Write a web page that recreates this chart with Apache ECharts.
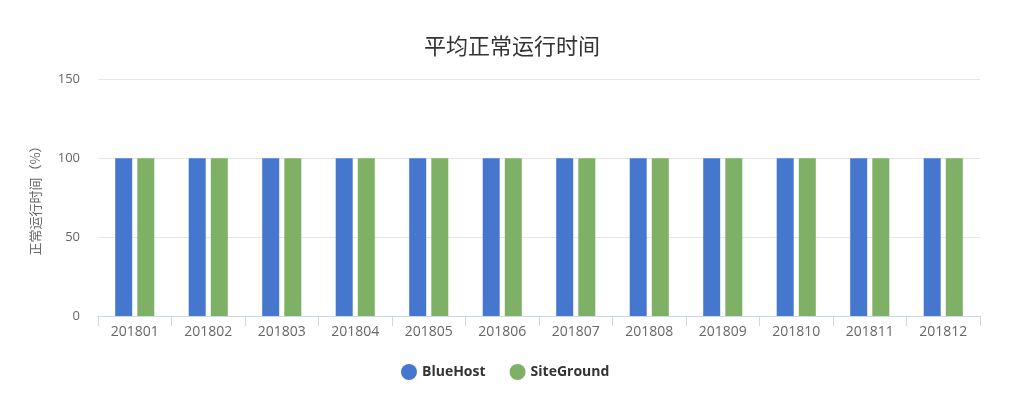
<!DOCTYPE html>
<html>
<head>
<meta charset="utf-8">
<script src="https://cdn.jsdelivr.net/npm/echarts@6/dist/echarts.min.js"></script>
<style>
  html, body { margin: 0; padding: 0; background: #fff; }
  #chart { width: 1024px; height: 415px; }
</style>
</head>
<body>
<div id="chart"></div>
<script>
var months = ['201801', '201802', '201803', '201804', '201805', '201806',
  '201807', '201808', '201809', '201810', '201811', '201812'];
var bluehost = [99.9, 99.9, 99.9, 99.9, 99.9, 99.9, 99.9, 99.9, 99.9, 99.9, 99.9, 99.9];
var siteground = [99.9, 99.9, 99.9, 99.9, 99.9, 99.9, 99.9, 99.9, 99.9, 99.9, 99.9, 99.9];

var chart = echarts.init(document.getElementById('chart'));

var option = {
  backgroundColor: '#fff',
  textStyle: { fontFamily: '"Open Sans", "Noto Sans CJK SC", sans-serif' },
  title: {
    text: '平均正常运行时间',
    left: 'center',
    top: 30,
    textStyle: { fontSize: 22, fontWeight: 'normal', color: '#333',
      fontFamily: '"Noto Sans CJK SC", sans-serif' }
  },
  legend: {
    data: ['BlueHost', 'SiteGround'],
    left: 396,
    bottom: 30,
    icon: 'circle',
    itemWidth: 16,
    itemHeight: 16,
    itemGap: 24,
    textStyle: { fontSize: 14, fontWeight: 'bold', color: '#333' }
  },
  color: ['#4677cf', '#7eb066'],
  grid: { left: 98, right: 44, top: 79, bottom: 99 },
  xAxis: {
    type: 'category',
    data: months,
    axisLine: { lineStyle: { color: '#ccd6eb' } },
    axisTick: { show: true, length: 10, lineStyle: { color: '#ccd6eb' } },
    axisLabel: { color: '#666', fontSize: 14, margin: 9 }
  },
  yAxis: {
    type: 'value',
    min: 0,
    max: 150,
    interval: 50,
    name: '正常运行时间（%）',
    nameLocation: 'middle',
    nameGap: 56,
    nameTextStyle: { color: '#666', fontSize: 13,
      fontFamily: '"Noto Sans CJK SC", sans-serif' },
    axisLine: { show: false },
    axisTick: { show: false },
    axisLabel: { color: '#666', fontSize: 13, margin: 18 },
    splitLine: { lineStyle: { color: '#e6e6e6' } }
  },
  series: [
    {
      name: 'BlueHost',
      type: 'bar',
      barWidth: 17,
      barGap: '30%',
      data: bluehost
    },
    {
      name: 'SiteGround',
      type: 'bar',
      barWidth: 17,
      barGap: '30%',
      data: siteground
    }
  ]
};

chart.setOption(option);
</script>
</body>
</html>
